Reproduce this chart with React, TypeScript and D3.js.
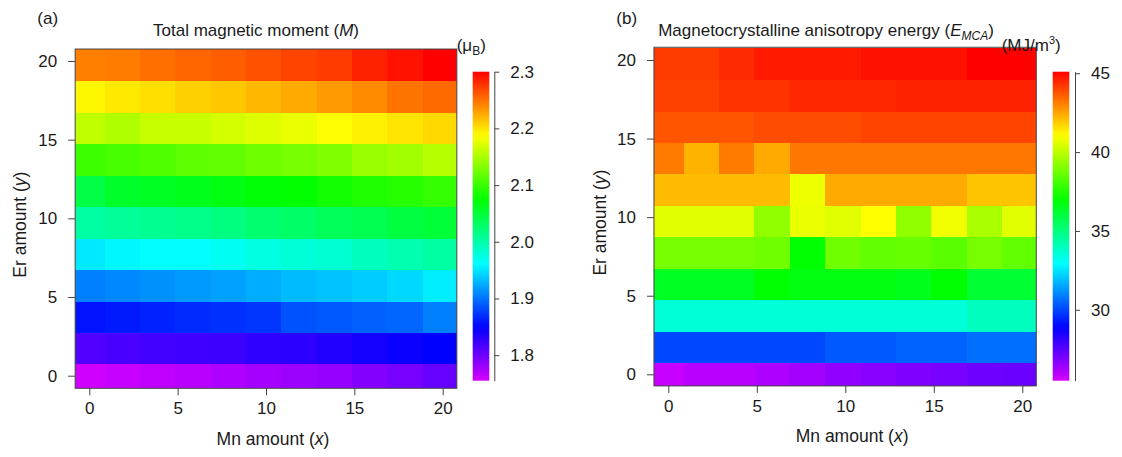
import React, { useEffect, useRef } from "react";
import * as d3 from "d3";

// grid coordinates
const mnAmount = [0, 2, 4, 6, 8, 10, 12, 14, 16, 18, 20];
const erAmount = [0, 2, 4, 6, 8, 10, 12, 14, 16, 18, 20];
const axisTicks = [0, 5, 10, 15, 20];

// total magnetic moment (muB), rows from Er = 0 up to Er = 20, columns Mn = 0..20
const momentRows = [
  [1.757, 1.761, 1.764, 1.768, 1.772, 1.776, 1.78, 1.783, 1.791, 1.796, 1.804],
  [1.813, 1.817, 1.819, 1.821, 1.823, 1.828, 1.83, 1.834, 1.84, 1.845, 1.849],
  [1.857, 1.86, 1.864, 1.868, 1.87, 1.873, 1.885, 1.888, 1.892, 1.894, 1.905],
  [1.905, 1.909, 1.913, 1.917, 1.92, 1.926, 1.932, 1.935, 1.939, 1.945, 1.954],
  [1.952, 1.958, 1.962, 1.962, 1.967, 1.975, 1.979, 1.982, 1.99, 1.997, 2.003],
  [2.003, 2.007, 2.011, 2.014, 2.018, 2.026, 2.029, 2.035, 2.039, 2.046, 2.05],
  [2.044, 2.056, 2.059, 2.063, 2.067, 2.073, 2.075, 2.082, 2.088, 2.091, 2.097],
  [2.101, 2.106, 2.11, 2.116, 2.118, 2.123, 2.127, 2.131, 2.142, 2.146, 2.155],
  [2.159, 2.152, 2.163, 2.163, 2.168, 2.172, 2.178, 2.187, 2.193, 2.199, 2.204],
  [2.191, 2.197, 2.202, 2.208, 2.212, 2.219, 2.225, 2.232, 2.238, 2.249, 2.253],
  [2.244, 2.245, 2.251, 2.255, 2.259, 2.264, 2.27, 2.274, 2.285, 2.292, 2.3],
];

// magnetocrystalline anisotropy energy (MJ/m3), same layout
const emcaRows = [
  [25.7, 25.97, 25.97, 26.11, 26.31, 26.58, 26.72, 26.85, 26.99, 27.12, 27.19],
  [30.03, 30.03, 30.03, 30.03, 30.03, 30.3, 30.3, 30.43, 30.43, 30.64, 30.64],
  [33.54, 33.54, 33.54, 33.54, 33.54, 33.54, 33.54, 33.54, 33.54, 33.95, 33.95],
  [36.45, 36.45, 36.45, 36.99, 36.72, 36.72, 36.72, 36.58, 36.99, 36.18, 36.18],
  [38.88, 38.88, 38.88, 38.75, 36.99, 38.75, 38.54, 38.61, 38.41, 38.88, 38.54],
  [40.57, 40.57, 40.57, 39.29, 40.71, 40.57, 41.04, 39.29, 40.84, 39.69, 40.57],
  [42.13, 42.13, 42.13, 42.13, 40.77, 42.4, 42.4, 42.4, 42.4, 41.99, 41.99],
  [43.14, 42.26, 43.14, 42.4, 43.21, 43.21, 43.21, 43.21, 43.21, 43.21, 43.21],
  [43.75, 43.75, 43.75, 43.88, 43.88, 43.88, 44.02, 44.02, 44.02, 44.02, 44.02],
  [44.09, 44.09, 44.29, 44.29, 44.49, 44.49, 44.49, 44.56, 44.56, 44.56, 44.56],
  [44.15, 44.15, 44.42, 44.69, 44.69, 44.69, 44.83, 44.83, 44.83, 45.1, 45.1],
];

const momentTicks = [1.8, 1.9, 2.0, 2.1, 2.2, 2.3];
const emcaTicks = [30, 35, 40, 45];

const FONT = "'Liberation Sans', Arial, Helvetica, sans-serif";
const INK = "#1a1a1a";
const LINE = "#444";

type Panel = {
  id: string;
  letter: string;
  rows: number[][];
  ticks: number[];
  range: [number, number];
  tickFormat: (d: number) => string;
  xPix: [number, number]; // pixel positions of x = 0 and x = 20
  yPix: [number, number]; // pixel positions of y = 0 and y = 20
  xLim: [number, number];
  yLim: [number, number];
  bar: [number, number]; // colorbar left edge, axis line x
  titleX: number;
  unitX: number;
  yLabelX: number;
  xLabelY: number;
};

const panels: Panel[] = [
  {
    id: "a",
    letter: "(a)",
    rows: momentRows,
    ticks: momentTicks,
    range: [1.755, 2.3],
    tickFormat: d3.format(".1f"),
    xPix: [89.3, 442.7],
    yPix: [375.7, 61],
    xLim: [-0.8, 20.8],
    yLim: [-0.8, 20.76],
    bar: [472.7, 494.3],
    titleX: 256,
    unitX: 456.7,
    yLabelX: 26,
    xLabelY: 445,
  },
  {
    id: "b",
    letter: "(b)",
    rows: emcaRows,
    ticks: emcaTicks,
    range: [25.5, 45.1],
    tickFormat: d3.format("d"),
    xPix: [668.3, 1022.3],
    yPix: [374.3, 60],
    xLim: [-0.81, 20.79],
    yLim: [-0.74, 20.81],
    bar: [1052.7, 1075],
    titleX: 826,
    unitX: 1001.7,
    yLabelX: 606,
    xLabelY: 442,
  },
];

const hueFor = (v: number, [lo, hi]: [number, number]) => {
  const t = Math.max(0, Math.min(1, (hi - v) / (hi - lo)));
  return d3.hsl(290 * t, 1, 0.5).formatHex();
};

const App = () => {
  const ref = useRef<SVGSVGElement>(null);

  useEffect(() => {
    const svg = d3.select(ref.current).attr("width", 1122).attr("height", 457);
    svg.selectAll("*").remove();
    svg.style("font-family", FONT);
    const defs = svg.append("defs");

    panels.forEach((p) => {
      const x = d3.scaleLinear().domain([0, 20]).range(p.xPix);
      const y = d3.scaleLinear().domain([0, 20]).range(p.yPix);
      const left = x(p.xLim[0]);
      const right = x(p.xLim[1]);
      const top = y(p.yLim[1]);
      const bottom = y(p.yLim[0]);

      defs
        .append("clipPath")
        .attr("id", `clip-${p.id}`)
        .append("rect")
        .attr("x", left)
        .attr("y", top)
        .attr("width", right - left)
        .attr("height", bottom - top);

      const cells = p.rows.flatMap((row, j) =>
        row.map((v, i) => ({ mn: mnAmount[i], er: erAmount[j], v }))
      );

      // cells sit slightly offset from the tick grid in the source figure
      svg
        .append("g")
        .attr("clip-path", `url(#clip-${p.id})`)
        .selectAll("rect")
        .data(cells)
        .join("rect")
        .attr("x", (d) => x(d.mn - 1.13))
        .attr("y", (d) => y(d.er + 0.74))
        .attr("width", (d) => x(d.mn + 0.87) - x(d.mn - 1.13) + 0.4)
        .attr("height", (d) => y(d.er - 1.26) - y(d.er + 0.74) + 0.4)
        .attr("fill", (d) => hueFor(d.v, p.range))
        .attr("shape-rendering", "crispEdges");

      svg
        .append("rect")
        .attr("x", left)
        .attr("y", top)
        .attr("width", right - left)
        .attr("height", bottom - top)
        .attr("fill", "none")
        .attr("stroke", LINE)
        .attr("stroke-width", 1);

      const gx = svg
        .append("g")
        .attr("transform", `translate(0,${bottom})`)
        .call(d3.axisBottom(x).tickValues(axisTicks).tickSize(7).tickPadding(7).tickFormat(d3.format("d")));
      const gy = svg
        .append("g")
        .attr("transform", `translate(${left},0)`)
        .call(d3.axisLeft(y).tickValues(axisTicks).tickSize(7).tickPadding(11).tickFormat(d3.format("d")));
      [gx, gy].forEach((g) => {
        g.select(".domain").remove();
        g.selectAll("line").attr("stroke", LINE);
        g.selectAll("text").attr("font-size", 17).attr("font-family", FONT).attr("fill", INK);
      });

      // colour bar
      const barTop = 71.7;
      const barBottom = 380.7;
      const c = d3.scaleLinear().domain(p.range).range([barBottom, barTop]);
      const grad = defs
        .append("linearGradient")
        .attr("id", `grad-${p.id}`)
        .attr("x1", 0)
        .attr("y1", 1)
        .attr("x2", 0)
        .attr("y2", 0);
      d3.range(0, 1.0001, 0.02).forEach((t) => {
        grad
          .append("stop")
          .attr("offset", t)
          .attr("stop-color", hueFor(p.range[0] + t * (p.range[1] - p.range[0]), p.range));
      });
      svg
        .append("rect")
        .attr("x", p.bar[0])
        .attr("y", barTop)
        .attr("width", 16.6)
        .attr("height", barBottom - barTop)
        .attr("fill", `url(#grad-${p.id})`);

      const gc = svg
        .append("g")
        .attr("transform", `translate(${p.bar[1]},0)`)
        .call(d3.axisRight(c).tickValues(p.ticks).tickSizeInner(5).tickSizeOuter(0).tickPadding(11).tickFormat(p.tickFormat as any));
      gc.selectAll("line, path").attr("stroke", LINE);
      gc.selectAll("text").attr("font-size", 17).attr("font-family", FONT).attr("fill", INK);

      // texts
      svg
        .append("text")
        .attr("x", x(0) - 52)
        .attr("y", 24)
        .attr("font-size", 17)
        .attr("fill", INK)
        .text(p.letter);

      const title = svg
        .append("text")
        .attr("x", p.titleX)
        .attr("y", 36)
        .attr("text-anchor", "middle")
        .attr("font-size", 17)
        .attr("fill", INK);
      if (p.id === "a") {
        title.append("tspan").text("Total magnetic moment (");
        title.append("tspan").attr("font-style", "italic").text("M");
        title.append("tspan").text(")");
      } else {
        title.append("tspan").text("Magnetocrystalline anisotropy energy (");
        title.append("tspan").attr("font-style", "italic").text("E");
        title.append("tspan").attr("font-style", "italic").attr("font-size", 12).attr("dy", 4).text("MCA");
        title.append("tspan").attr("dy", -4).text(")");
      }

      const unit = svg
        .append("text")
        .attr("x", p.unitX)
        .attr("y", 51)
        .attr("font-size", 17)
        .attr("fill", INK);
      if (p.id === "a") {
        unit.append("tspan").text("(μ");
        unit.append("tspan").attr("font-size", 12).attr("dy", 4).text("B");
        unit.append("tspan").attr("dy", -4).text(")");
      } else {
        unit.append("tspan").text("(MJ/m");
        unit.append("tspan").attr("font-size", 11).attr("dy", -7).text("3");
        unit.append("tspan").attr("dy", 7).text(")");
      }

      const yl = svg
        .append("text")
        .attr("transform", `translate(${p.yLabelX},${(top + bottom) / 2 + 6}) rotate(-90)`)
        .attr("text-anchor", "middle")
        .attr("font-size", 17.5)
        .attr("fill", INK);
      yl.append("tspan").text("Er amount (");
      yl.append("tspan").attr("font-style", "italic").text("y");
      yl.append("tspan").text(")");

      const xl = svg
        .append("text")
        .attr("x", (left + right) / 2 + 7)
        .attr("y", p.xLabelY)
        .attr("text-anchor", "middle")
        .attr("font-size", 17.5)
        .attr("fill", INK);
      xl.append("tspan").text("Mn amount (");
      xl.append("tspan").attr("font-style", "italic").text("x");
      xl.append("tspan").text(")");
    });
  }, []);

  return <svg ref={ref} style={{ position: "absolute", left: 0, top: 0, background: "#fff" }}></svg>;
};

export default App;
